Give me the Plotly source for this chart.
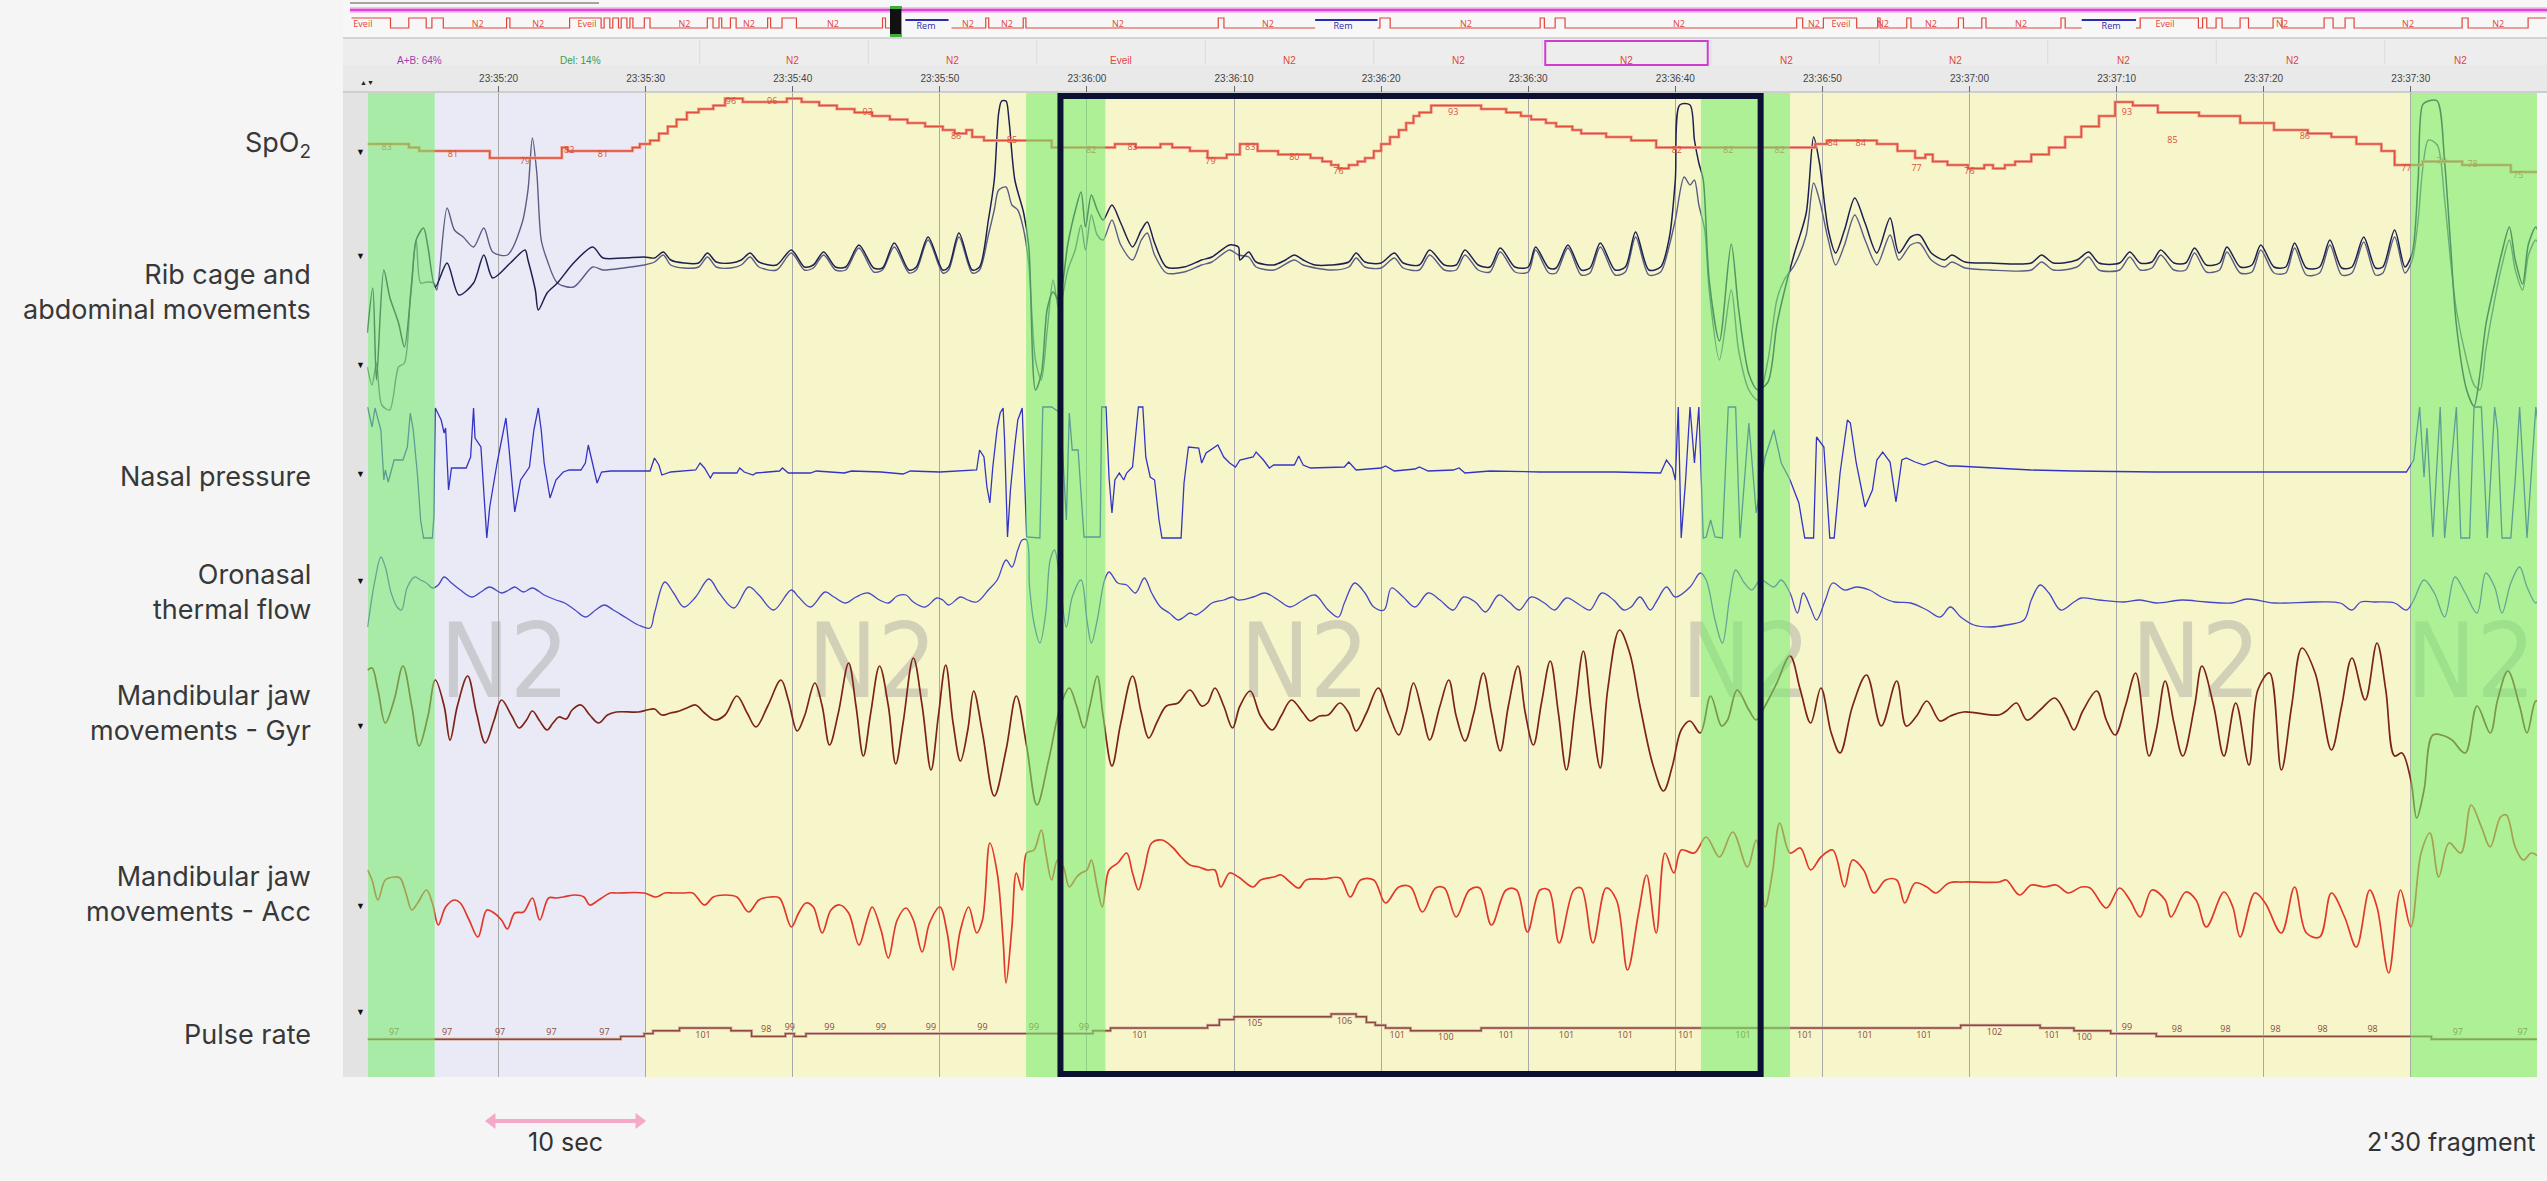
import plotly.graph_objects as go

W, H = 2547, 1181

# ---------------------------------------------------------------- data
TIME_TICK_S = [20, 30, 40, 50, 60, 70, 80, 90, 100, 110, 120, 130, 140, 150]
TIME_TICK_LABELS = ["23:35:20", "23:35:30", "23:35:40", "23:35:50", "23:36:00", "23:36:10",
                    "23:36:20", "23:36:30", "23:36:40", "23:36:50", "23:37:00", "23:37:10",
                    "23:37:20", "23:37:30"]
WINDOW_S = (11.09, 158.58)          # seconds after 23:35:00
SCALE_BAR_S = (19.55, 29.55)

CHANNEL_LABELS = ["SpO<sub>2</sub>", "Rib cage and<br>abdominal movements", "Nasal pressure",
                  "Oronasal<br>thermal flow", "Mandibular jaw<br>movements - Gyr",
                  "Mandibular jaw<br>movements - Acc", "Pulse rate"]

LAVENDER_PERIODS = [(11.09, 30.0)]
YELLOW_PERIODS = [(30.0, 158.58)]
AROUSAL_PERIODS = [(11.09, 15.66), (55.86, 61.25), (101.74, 107.8), (150.0, 158.58)]
HIGHLIGHT_PERIOD = (58.2, 105.8)
STAGE_MARKS = [(20.4, "N2"), (45.4, "N2"), (74.8, "N2"), (104.8, "N2"), (135.4, "N2"), (154.1, "N2")]

SPO2 = [(11.1, 83), (13.9, 82), (14.6, 81), (19.4, 79), (24.3, 82), (24.7, 81), (29.1, 82), (29.6, 83),
        (30.3, 84), (30.9, 86), (31.5, 88), (32.1, 90), (32.8, 92), (33.6, 93), (34.6, 94), (35.4, 96),
        (36.6, 95), (39.6, 96), (40.6, 95), (41.8, 94), (43.0, 93), (44.2, 92), (45.4, 91), (46.6, 90),
        (47.8, 89), (49.0, 88), (50.2, 87), (51.0, 86), (51.8, 87), (52.2, 85), (53.0, 84), (57.6, 82),
        (61.9, 83), (63.3, 82), (65.0, 83), (65.8, 82), (67.0, 81), (68.2, 79), (69.5, 80), (70.4, 83),
        (71.6, 81), (73.0, 80), (75.2, 79), (76.0, 78), (76.6, 77), (77.1, 76), (77.8, 77), (78.4, 78),
        (78.9, 79), (79.5, 81), (80.0, 83), (80.6, 85), (81.2, 87), (81.7, 89), (82.2, 91), (82.6, 92),
        (83.4, 94), (86.8, 93), (88.5, 92), (89.5, 91), (90.2, 90), (91.2, 89), (91.9, 88), (93.0, 87),
        (93.6, 86), (95.3, 85), (97.0, 84), (98.7, 82), (109.5, 83), (110.3, 84), (113.7, 83), (115.1, 81),
        (116.3, 79), (117.0, 80), (117.5, 78), (118.5, 77), (119.9, 76), (121.0, 77), (121.6, 76),
        (122.4, 77), (123.1, 78), (124.2, 80), (125.4, 82), (126.5, 85), (127.6, 88), (128.8, 91),
        (129.9, 95), (131.1, 94), (132.8, 92), (135.6, 91), (138.4, 89), (140.7, 87), (143.0, 86),
        (144.6, 85), (146.3, 83), (148.0, 81), (148.9, 77), (150.8, 78), (153.5, 77), (156.8, 75),
        (158.8, 75)]
SPO2_LABELS = [(12.4, 83), (16.9, 81), (21.8, 79), (24.8, 82), (27.1, 81), (35.8, 96), (38.6, 96),
               (45.1, 93), (51.1, 86), (54.9, 85), (60.3, 82), (63.1, 83), (68.4, 79), (71.1, 83),
               (74.1, 80), (77.1, 76), (84.9, 93), (100.1, 82), (103.6, 82), (107.1, 82), (110.7, 84),
               (112.6, 84), (116.4, 77), (120.0, 76), (130.7, 93), (133.8, 85), (142.8, 86), (149.7, 77),
               (152.1, 79), (154.2, 78), (157.3, 75)]

RIB = [(11.08, -6.3), (11.45, -1.8), (11.7, -11.0), (12.2, 0.0), (12.6, -2.7), (13.2, -5.3), (13.6, -7.7),
       (14.1, -1.3), (14.4, 3.0), (14.9, 4.2), (15.2, 2.3), (15.7, -1.7), (16.5, 0.7), (17.3, -2.5),
       (18.3, -1.3), (19.0, 1.5), (19.6, -0.8), (20.8, 0.7), (21.8, 2.0), (22.0, 1.0), (22.5, -2.0),
       (22.7, -4.0), (23.3, -2.3), (24.0, -1.3), (25.1, 0.7), (26.4, 2.3), (27.1, 1.2), (28.5, 1.2),
       (29.9, 1.3), (30.6, 1.2),
       (31.2, 1.8), (31.7, 1.0), (32.6, 0.7), (33.6, 0.7), (34.2, 1.7), (34.8, 0.8), (35.8, 0.7),
       (36.5, 1.0), (37.1, 1.7), (37.7, 0.8), (38.9, 0.5), (39.9, 2.0), (40.8, 0.3), (41.4, 0.5),
       (42.1, 1.8), (42.9, 0.3), (43.6, 0.3), (44.5, 2.5), (45.5, 0.2), (46.1, 0.2), (46.9, 2.7),
       (47.9, 0.0), (48.4, 0.3), (49.2, 3.3), (50.2, 0.0), (50.6, 0.3), (51.3, 3.7), (52.2, 0.0),
       (52.7, 0.3), (53.3, 5.0), (53.7, 9.0), (54.0, 15.7), (54.2, 16.9), (54.5, 16.9), (54.7, 15.0),
       (55.1, 9.0), (55.7, 5.7), (56.05, 2.3), (56.5, -12.0), (56.9, -10.4), (57.3, -3.9), (57.7, -2.2),
       (58.1, -3.0), (58.7, 2.6), (59.2, 5.9), (59.6, 7.8), (59.9, 4.3), (60.3, 7.5), (60.7, 6.0),
       (61.1, 5.0), (61.7, 6.5), (62.3, 4.7), (63.1, 2.3), (63.7, 4.0), (64.1, 4.8), (64.6, 2.7),
       (65.4, 0.3), (66.6, 0.3), (67.8, 1.0), (68.5, 1.3), (69.7, 2.5), (70.3, 2.3), (70.4, 1.0),
       (71.0, 1.8), (71.5, 0.8), (72.7, 0.5), (73.5, 1.0), (74.1, 1.5), (74.7, 1.0), (75.5, 0.5),
       (76.6, 0.5), (77.8, 0.8), (78.3, 1.7), (78.9, 0.8), (80.0, 0.7), (80.9, 1.7), (81.5, 0.7),
       (82.6, 0.5), (83.3, 2.0), (84.3, 0.5), (85.1, 0.5), (85.7, 2.0), (86.6, 0.5), (87.4, 0.3),
       (88.1, 2.2), (89.1, 0.3), (90.0, 0.3), (90.5, 2.3), (91.4, 0.2), (91.9, 0.2), (92.7, 2.5),
       (93.6, 0.0), (94.2, 0.2), (94.9, 2.7), (95.9, 0.0), (96.6, 0.3), (97.3, 3.8), (98.2, 0.0),
       (99.0, 0.3), (99.6, 3.3), (100.0, 9.0), (100.3, 16.5), (101.0, 16.5), (101.3, 13.0),
       (101.6, 10.7), (101.9, 9.0), (102.3, -1.0), (103.0, -7.1), (103.8, 2.6), (104.3, -3.9),
       (105.0, -10.4), (105.6, -12.0), (106.3, -11.2), (106.9, -5.5), (107.4, -2.2), (108.1, 1.7),
       (108.9, 5.7), (109.4, 13.3), (109.8, 10.7), (110.4, 4.0), (110.9, 1.7), (111.5, 4.0),
       (112.2, 7.2), (112.9, 4.7), (113.7, 1.7), (114.6, 5.2), (115.2, 1.7), (116.0, 3.3), (116.6, 3.5),
       (117.4, 1.7), (118.3, 1.0), (118.8, 1.5), (119.7, 0.8), (121.4, 0.7), (124.2, 0.7), (124.9, 1.5),
       (125.7, 0.7), (127.3, 1.0), (128.1, 1.8), (128.8, 0.7), (130.2, 0.7), (130.9, 1.8), (131.6, 0.7),
       (132.4, 0.8), (133.0, 2.0), (133.9, 0.7), (134.7, 0.7), (135.3, 2.2), (136.1, 0.5), (137.0, 0.7),
       (137.5, 2.3), (138.4, 0.3), (139.2, 0.5), (139.8, 2.5), (140.7, 0.3), (141.5, 0.3), (142.1, 2.7),
       (142.9, 0.2), (143.8, 0.3), (144.5, 3.0), (145.3, 0.2), (146.0, 0.3), (146.8, 3.3), (147.6, 0.2),
       (148.1, 0.3), (148.9, 4.0), (149.6, 0.3), (150.1, 1.7), (150.5, 9.0), (150.8, 16.5),
       (151.2, 16.9), (151.8, 16.9), (152.3, 10.8), (152.7, 2.6), (153.1, -5.5), (153.8, -12.0),
       (154.3, -13.6), (154.7, -10.4), (155.1, -5.5), (155.7, -1.4), (156.2, 1.8), (156.7, 4.3),
       (157.1, 1.0), (157.6, -1.4), (158.0, 2.6), (158.5, 4.3), (158.8, 3.0)]

ABDOMEN = [(11.08, -9.7), (11.4, -11.5), (11.7, -9.3), (12.06, -13.5), (12.6, -14.0), (13.2, -9.7),
           (13.6, -9.3), (14.0, -2.7), (14.4, 3.0), (14.7, -1.3), (15.1, -1.2), (15.6, -1.3), (15.8, -2.0),
           (16.5, 6.2), (17.0, 4.0), (17.6, 3.3), (18.3, 2.3), (19.0, 4.2), (19.6, 1.8), (20.6, 1.5),
           (21.6, 4.7), (22.0, 8.0), (22.3, 13.2), (22.6, 9.7), (22.9, 3.0), (23.3, 1.0), (24.0, -1.3),
           (25.1, -1.7), (26.4, 0.3), (27.1, 0.0), (28.5, 0.2), (29.9, 0.5), (30.6, 0.8), (31.2, 1.5),
           (31.7, 0.5),
           (32.6, 0.2), (33.6, 0.3), (34.2, 1.3), (34.8, 0.3), (35.8, 0.2), (36.5, 0.5), (37.1, 1.3),
           (37.7, 0.3), (38.9, 0.0), (39.9, 1.7), (40.8, 0.0), (41.4, 0.2), (42.1, 1.5), (42.9, 0.0),
           (43.6, 0.0), (44.5, 2.2), (45.5, -0.2), (46.1, 0.0), (46.9, 2.3), (47.9, -0.3), (48.4, 0.0),
           (49.2, 3.0), (50.2, -0.3), (50.6, 0.0), (51.3, 3.3), (52.2, -0.3), (52.7, 0.0), (53.3, 3.5),
           (53.7, 6.0), (54.0, 8.0), (54.5, 8.3), (54.9, 6.5), (55.3, 6.0), (55.7, 4.0), (56.05, 0.5),
           (56.5, -9.0), (56.9, -11.0), (57.3, -6.0), (57.7, -1.0), (58.1, -4.0), (58.7, 0.0), (59.2, 2.0),
           (59.6, 4.5), (59.9, 2.0), (60.3, 5.5), (60.7, 3.5), (61.1, 3.0), (61.7, 5.0), (62.3, 2.5),
           (63.1, 1.0), (63.7, 3.0), (64.1, 3.7), (64.6, 1.5), (65.4, -0.3), (66.6, -0.2), (67.8, 0.5),
           (68.5, 0.8), (69.7, 2.0), (70.3, 1.5), (71.0, 1.3), (71.5, 0.3), (72.7, 0.0), (74.1, 1.0),
           (74.7, 0.5), (76.6, 0.0), (77.8, 0.3), (78.3, 1.2), (78.9, 0.3), (80.0, 0.2), (80.9, 1.2),
           (81.5, 0.2), (82.6, 0.0), (83.3, 1.5), (84.3, 0.0), (85.1, 0.0), (85.7, 1.5), (86.6, 0.0),
           (87.4, -0.2), (88.1, 1.8), (89.1, -0.2), (90.0, -0.2), (90.5, 2.0), (91.4, -0.3), (91.9, -0.3),
           (92.7, 2.2), (93.6, -0.5), (94.2, -0.3), (94.9, 2.3), (95.9, -0.5), (96.6, -0.2), (97.3, 3.3),
           (98.2, -0.5), (99.0, -0.2), (99.6, 2.5), (100.0, 5.0), (100.6, 9.3), (101.0, 8.5), (101.3, 9.0),
           (101.6, 6.5), (102.0, 4.0), (102.3, -2.0), (103.0, -9.0), (103.8, -2.0), (104.3, -8.0),
           (105.0, -12.0), (105.6, -13.0), (106.3, -9.0), (106.9, -3.0), (107.4, -1.0), (108.1, 0.5),
           (108.9, 3.5), (109.4, 8.7), (109.8, 7.0), (110.4, 3.0), (110.9, 0.5), (111.5, 2.5), (112.2, 5.5),
           (112.9, 3.0), (113.7, 0.5), (114.6, 3.5), (115.2, 1.0), (116.0, 2.5), (116.6, 2.7), (117.4, 1.0),
           (118.3, 0.3), (118.8, 0.8), (119.7, 0.2), (121.4, 0.0), (124.2, 0.0), (124.9, 0.8), (125.7, 0.0),
           (127.3, 0.3), (128.1, 1.3), (128.8, 0.0), (130.2, 0.0), (130.9, 1.3), (131.6, 0.0), (132.4, 0.2),
           (133.0, 1.5), (133.9, 0.0), (134.7, 0.0), (135.3, 1.7), (136.1, -0.2), (137.0, 0.0), (137.5, 1.8),
           (138.4, -0.3), (139.2, -0.2), (139.8, 2.0), (140.7, -0.3), (141.5, -0.3), (142.1, 2.2),
           (142.9, -0.5), (143.8, -0.3), (144.5, 2.5), (145.3, -0.5), (146.0, -0.3), (146.8, 2.8),
           (147.6, -0.5), (148.1, -0.3), (148.9, 3.3), (149.6, -0.3), (150.1, 1.0), (150.5, 5.0),
           (150.8, 10.0), (151.2, 13.0), (151.8, 12.5), (152.3, 7.0), (152.7, 1.0), (153.1, -4.0),
           (153.8, -9.0), (154.3, -11.5), (154.7, -12.0), (155.1, -8.0), (155.7, -3.0), (156.2, 0.5),
           (156.7, 3.0), (157.1, 0.0), (157.6, -2.0), (158.0, 1.5), (158.5, 3.0), (158.8, 2.0)]

NASAL = [(11.1, 6.5), (11.4, 4.5), (11.6, 6.4), (12.0, 4.2), (12.2, -0.8), (12.3, 0.2), (12.5, -1.0),
         (12.9, 1.2), (13.5, 1.2), (13.8, 2.5), (14.0, 5.9), (14.2, 4.2), (14.5, -0.5), (14.7, -4.8),
         (14.9, -6.6), (15.5, -6.6), (15.6, -4.5), (15.7, 6.4), (16.1, 5.2), (16.3, 3.9), (16.4, 4.4),
         (16.6, -1.8), (16.8, 0.4), (17.8, 0.4), (18.1, 1.5), (18.3, 6.4), (18.4, 3.4), (18.6, 3.0),
         (18.8, 2.5), (19.2, -6.6), (19.4, -3.5), (19.9, 0.9), (20.5, 5.4), (20.7, 2.5), (21.1, -4.0),
         (21.5, -0.8), (22.1, 0.5), (22.4, 4.2), (22.7, 6.4), (22.9, 4.2), (23.1, 0.9), (23.5, -2.6),
         (23.9, -0.8), (24.4, 0.0), (24.8, 0.2), (25.6, 0.2), (25.9, 0.9), (26.1, 2.7), (26.4, 0.9),
         (26.7, -1.1), (27.0, 0.0), (27.6, 0.1), (30.3, 0.1), (30.6, 1.4), (30.9, 0.7), (31.1, -0.3),
         (31.7, 0.0), (33.4, 0.2), (33.7, 0.9), (34.0, 0.4), (34.4, -0.6), (34.6, -0.1), (36.2, -0.1),
         (36.4, 0.4), (36.7, 0.0), (37.3, -0.3), (37.5, -0.1), (39.1, 0.1), (39.3, 0.4), (39.7, -0.1),
         (41.2, -0.1), (41.6, 0.1), (43.5, -0.1), (44.0, 0.1), (46.0, 0.0), (47.5, -0.2), (48.0, 0.1),
         (50.0, 0.0), (52.5, 0.2), (52.7, 2.2), (53.0, 1.5), (53.2, -1.5), (53.4, -3.1), (53.6, 0.5),
         (53.9, 4.4), (54.1, 5.9), (54.3, 6.4), (54.4, 3.2), (54.6, -6.5), (54.8, -1.8), (55.1, 2.7),
         (55.3, 5.2), (55.6, 6.4), (55.7, 2.7), (55.9, -6.5), (56.8, -6.6), (57.0, 6.5), (57.6, 6.5),
         (58.2, 5.9), (58.6, -4.8), (58.8, 5.9), (59.0, 2.2), (59.4, 2.2), (59.8, -6.5), (60.9, -6.5),
         (61.0, 6.5), (61.3, 6.5), (61.5, -0.5), (61.7, -4.1), (61.9, -0.8), (62.2, -0.1), (62.5, -0.8),
         (62.7, -0.1), (63.1, 0.5), (63.5, 6.5), (63.8, 6.5), (64.0, 1.5), (64.3, -0.5), (64.6, -0.8),
         (64.9, -4.8), (65.1, -6.6), (66.4, -6.6), (66.6, -1.1), (66.9, 2.5), (67.6, 2.4), (67.8, 0.9),
         (68.1, 1.9), (68.9, 2.7), (69.3, 1.5), (69.7, 0.9), (70.1, 0.5), (70.4, 1.2), (71.3, 1.5),
         (71.5, 2.0), (72.0, 1.2), (72.4, 0.4), (72.7, 0.7), (74.1, 0.7), (74.4, 1.6), (74.7, 0.7),
         (75.2, 0.4), (77.5, 0.5), (77.8, 1.0), (78.3, 0.2), (80.0, 0.4), (80.3, 0.6), (80.9, 0.1),
         (82.3, 0.3), (82.6, 0.5), (83.2, 0.1), (84.9, 0.2), (85.3, 0.4), (85.7, -0.1), (87.4, 0.1),
         (90.8, 0.0), (95.9, 0.0), (99.0, -0.1), (99.4, 1.2), (99.8, 0.4), (100.0, -0.8), (100.2, 6.5),
         (100.4, -6.6), (100.7, -0.8), (101.0, 6.5), (101.3, 0.9), (101.6, 6.5), (101.9, -6.6),
         (102.1, -6.5), (102.4, -4.8), (102.7, -6.5), (103.2, -6.6), (103.6, 6.5), (104.1, 6.5),
         (104.4, -6.6), (105.0, 4.9), (105.5, -4.1), (106.1, 1.5), (106.7, 4.2), (107.2, 0.9),
         (107.8, -0.8), (108.4, -3.1), (108.8, -6.6), (109.4, -6.6), (109.6, 3.5), (110.1, 2.5),
         (110.5, -6.6), (110.8, -6.6), (111.2, -0.1), (111.7, 5.2), (111.9, 4.9), (112.3, 0.9),
         (112.9, -3.5), (113.4, -1.8), (113.7, 1.2), (114.1, 2.0), (114.6, 1.0), (115.0, -3.0),
         (115.4, 1.2), (115.7, 1.4), (116.3, 1.0), (116.9, 0.7), (117.7, 1.1), (118.6, 0.6), (119.1, 0.6),
         (120.3, 0.5), (121.4, 0.4), (124.2, 0.2), (127.1, 0.1), (132.7, 0.0), (149.7, 0.0), (150.2, 1.2),
         (150.6, 6.5), (150.9, -0.5), (151.1, 4.4), (151.5, -6.5), (152.0, 6.5), (152.3, -6.6),
         (153.1, 6.5), (153.4, -6.6), (154.0, -6.6), (154.3, 6.5), (154.8, 6.5), (155.2, -6.6),
         (155.7, 6.5), (155.9, 4.2), (156.2, -6.6), (156.8, -6.6), (157.1, -0.8), (157.4, 6.5),
         (157.9, -6.6), (158.5, 6.5), (158.8, 3.2)]

THERMAL = [(11.1, -2.7), (11.6, 2.0), (12.0, 4.3), (12.3, 3.3), (12.7, 0.7), (13.1, -0.7), (13.4, -1.0),
           (13.8, 1.3), (14.3, 2.3), (14.7, 2.0), (15.1, 1.7), (15.5, 1.2), (15.9, 1.5), (16.3, 2.3),
           (16.8, 1.7), (17.4, 1.0), (18.2, 0.3), (18.8, 0.8), (19.4, 1.3), (20.2, 0.7), (20.7, 1.0),
           (21.1, 1.3), (21.7, 0.8), (22.3, 1.2), (23.1, 0.5), (23.9, 0.0), (24.5, -0.3), (25.2, -1.0),
           (25.9, -1.7), (26.6, -1.0), (27.2, -0.5), (27.8, -1.0), (28.7, -1.8), (29.5, -2.5), (30.3, -2.8),
           (30.6, -1.3), (31.3, 1.8), (31.9, 0.7), (32.6, -0.7), (33.4, 0.3), (34.3, 2.1), (35.0, 0.7),
           (36.0, -0.8), (37.0, 1.3), (37.7, 0.5), (38.7, -1.0), (39.9, 1.0), (40.4, 0.3), (41.2, -0.7),
           (42.2, 0.8), (42.8, 0.3), (43.6, -0.3), (44.3, 0.3), (45.1, 0.7), (45.9, 0.0), (46.5, -0.3),
           (47.1, 0.4), (47.7, 0.5), (48.2, -0.2), (49.0, -0.7), (49.8, 0.2), (50.2, 0.0), (50.6, -0.5),
           (51.4, 0.3), (51.9, 0.0), (52.5, -0.2), (53.3, 1.0), (53.9, 2.0), (54.5, 4.0), (54.9, 3.3),
           (55.3, 5.0), (55.6, 6.0), (55.9, 6.0), (56.1, 1.3), (56.4, -2.3), (56.8, -4.3), (57.2, -1.3),
           (57.5, 4.0), (57.8, 5.0), (58.2, 1.3), (58.6, -2.7), (59.0, 0.3), (59.6, 2.0), (60.0, -2.0),
           (60.3, -4.3), (60.7, -2.0), (61.2, 2.0), (61.5, 2.8), (62.1, 1.7), (62.7, 1.5), (63.3, 0.7),
           (63.9, 2.2), (64.4, 0.7), (65.0, -0.7), (65.6, -1.3), (66.2, -2.0), (66.6, -1.7), (67.0, -1.3),
           (67.4, -1.5), (67.95, -1.0), (68.5, -0.3), (69.3, 0.0), (69.9, 0.3), (70.3, 0.0), (71.3, 0.3),
           (72.1, 0.7), (73.0, 0.0), (73.8, -0.7), (74.7, 0.0), (75.5, 0.5), (76.4, -1.0), (77.1, -1.7),
           (77.5, -0.3), (78.2, 1.7), (78.9, 0.7), (79.5, -0.7), (80.2, -1.0), (80.7, 1.2), (81.5, 0.3),
           (82.3, -0.7), (83.2, 0.7), (84.0, 0.0), (84.9, -1.0), (85.6, 0.3), (86.4, -0.2), (87.1, -1.2),
           (88.0, 0.5), (88.7, -0.2), (89.4, -1.0), (90.2, 0.3), (91.1, -0.3), (91.8, -1.0), (92.6, 0.2),
           (93.5, -0.5), (94.2, -1.0), (95.0, 0.7), (95.8, 0.0), (96.5, -1.0), (97.0, -0.7), (97.6, 0.3),
           (98.3, -1.0), (98.7, -0.2), (99.4, 1.3), (100.0, 0.3), (101.0, 1.3), (101.7, 2.7), (102.1, 2.0),
           (102.7, -2.0), (103.2, -4.3), (103.7, 0.3), (104.1, 3.0), (104.7, 1.7), (105.2, 1.0),
           (105.8, 2.0), (106.7, 1.3), (107.2, 2.0), (107.8, 0.7), (108.3, -1.3), (108.7, 0.7),
           (109.2, -0.8), (109.6, -2.0), (110.2, 0.0), (110.7, 1.7), (111.5, 1.0), (112.3, 1.3),
           (113.2, 1.0), (114.0, 0.3), (114.9, -0.2), (116.0, -0.3), (117.1, -1.0), (118.0, -1.7),
           (118.7, -0.7), (119.4, -1.7), (120.3, -2.5), (121.4, -2.7), (122.5, -2.5), (123.7, -2.0),
           (124.2, 0.0), (124.8, 1.5), (125.4, 0.7), (126.2, -1.0), (127.1, -0.2), (127.6, 0.2),
           (128.8, 0.0), (130.5, -0.2), (131.6, 0.0), (132.7, -0.3), (134.4, 0.0), (136.1, -0.2),
           (137.8, -0.3), (138.9, 0.1), (140.7, -0.3), (143.5, -0.2), (145.2, -0.3), (146.0, -1.0),
           (146.6, -0.2), (147.5, -0.2), (148.9, -0.3), (149.7, -1.0), (150.2, 0.0), (150.9, 2.0),
           (151.6, 0.7), (152.3, -1.7), (153.0, 2.3), (153.7, 0.7), (154.5, -1.3), (155.1, 2.7),
           (155.7, 1.3), (156.2, -1.3), (156.8, 1.7), (157.4, 3.3), (157.9, 1.3), (158.5, -0.3),
           (158.8, 0.7)]

GYR = [(11.1, 4.3), (11.4, 4.5), (11.8, 2.3), (12.3, -1.0), (12.9, 1.3), (13.5, 4.7), (14.1, 0.7),
       (14.6, -3.3), (15.2, -0.3), (15.7, 3.3), (16.3, 0.7), (16.7, -2.7), (17.2, 0.7), (17.9, 3.7),
       (18.5, 0.0), (19.1, -3.0), (19.7, -0.7), (20.2, 1.3), (20.9, -0.3), (21.4, -1.5), (21.9, -0.7),
       (22.3, 0.2), (22.8, -0.8), (23.3, -1.7), (23.7, -1.0), (24.1, -0.4), (24.6, -0.6), (25.0, 0.3),
       (25.6, 0.8), (26.2, -0.2), (26.8, -1.0), (27.4, -0.2), (28.0, 0.1), (29.5, 0.1), (30.1, 0.3),
       (30.6, 0.4), (31.1, -0.2), (31.7, 0.0), (32.3, 0.2), (32.8, 0.5), (33.4, 0.8), (34.0, 0.0),
       (34.7, -0.7), (35.4, -0.2), (36.2, 1.7), (36.9, 0.0), (37.5, -1.4), (38.3, 0.7), (39.2, 3.3),
       (39.7, 1.3), (40.3, -1.8), (40.8, -0.3), (41.5, 3.0), (42.0, 0.7), (42.5, -3.2), (43.1, 0.0),
       (43.8, 5.0), (44.3, 0.7), (44.8, -4.3), (45.3, 0.0), (45.9, 4.7), (46.5, 0.7), (47.0, -5.1),
       (47.5, -1.0), (48.2, 5.5), (48.8, 0.7), (49.4, -5.7), (49.9, -0.3), (50.4, 4.8), (50.9, -1.0),
       (51.4, -4.8), (51.9, -1.7), (52.3, 2.2), (52.9, -2.0), (53.7, -8.3), (54.5, -3.7), (55.2, 1.7),
       (55.9, -3.3), (56.6, -9.2), (57.4, -4.7), (58.2, 0.7), (58.8, 2.5), (59.3, 0.7), (59.8, -1.5),
       (60.2, 0.7), (60.7, 3.7), (61.1, -0.3), (61.7, -5.3), (62.3, -1.0), (63.1, 3.7), (63.7, 0.0),
       (64.2, -2.5), (64.8, -0.8), (65.4, 0.7), (66.2, 1.0), (67.0, 2.3), (67.8, 0.7), (68.2, 1.0),
       (68.7, 2.5), (69.3, 0.7), (69.9, -1.5), (70.4, 0.7), (71.1, 2.2), (71.8, -0.3), (72.6, -1.7),
       (73.2, -0.3), (73.9, 1.3), (74.7, 0.0), (75.2, -0.8), (75.8, -0.3), (76.4, -0.2), (77.2, 1.0),
       (77.8, 0.0), (78.3, -1.8), (79.0, 0.0), (79.8, 2.5), (80.5, 0.0), (81.2, -2.2), (81.7, 0.0),
       (82.2, 3.0), (82.8, 0.0), (83.3, -2.7), (84.0, 0.7), (84.6, 3.3), (85.1, -0.3), (85.7, -2.8),
       (86.3, 0.0), (86.95, 4.0), (87.5, 0.0), (88.1, -3.8), (88.65, 0.7), (89.3, 4.7), (89.8, 0.0),
       (90.35, -3.2), (90.9, 1.0), (91.5, 5.2), (92.05, 0.0), (92.6, -5.7), (93.2, 0.7), (93.75, 6.2),
       (94.3, 0.0), (94.9, -5.5), (95.4, 2.3), (96.2, 8.3), (96.9, 6.0), (97.6, 0.7), (98.5, -5.3),
       (99.2, -7.8), (99.8, -5.3), (100.4, -1.7), (101.0, -0.8), (101.7, -2.0), (102.4, 1.7),
       (103.15, -1.3), (103.55, -0.7), (104.2, 2.3), (105.0, 0.3), (105.5, -0.7), (106.1, 0.7),
       (106.9, 3.0), (107.8, 5.7), (108.5, 2.3), (109.2, -1.0), (109.9, 2.5), (110.6, -2.0),
       (111.2, -4.0), (112.05, 0.7), (113.0, 3.8), (114.0, -1.3), (115.05, 3.2), (115.7, -1.3),
       (116.4, -0.3), (117.1, 1.2), (118.0, -0.8), (118.7, -0.3), (119.6, 0.1), (122.0, -0.2),
       (122.5, 0.2), (123.2, 1.0), (123.9, -0.7), (124.8, 0.3), (125.8, 1.5), (126.6, -0.3),
       (127.1, -1.7), (127.7, 0.2), (128.65, 2.2), (129.3, -0.7), (129.9, -2.2), (130.6, 0.7),
       (131.3, 4.0), (132.2, -4.3), (132.7, -1.7), (133.3, 3.2), (133.9, -1.0), (134.5, -4.3),
       (135.3, 0.7), (135.8, 4.7), (136.6, 0.7), (137.3, -4.3), (138.1, 1.0), (139.0, -5.2),
       (139.6, 2.3), (140.4, 4.0), (141.2, -5.7), (141.9, 0.7), (142.6, 6.5), (143.5, 4.0),
       (144.6, -3.7), (145.3, 0.7), (146.0, 5.5), (146.9, 1.3), (147.7, 7.0), (148.3, 2.3),
       (148.9, -4.3), (149.4, -4.0), (150.0, -6.7), (150.4, -10.5), (150.9, -7.7), (151.5, -2.2),
       (152.3, -2.3), (152.8, -2.7), (153.7, -4.0), (154.5, 0.7), (155.4, -2.0), (155.9, 1.3),
       (156.6, 4.2), (157.4, 0.7), (157.9, -2.0), (158.5, 1.2), (158.8, 1.0)]

ACC = [(11.1, 2.0), (11.4, 1.0), (11.8, -1.0), (12.3, 1.0), (12.9, 1.3), (13.3, 1.2), (13.7, -0.3),
       (14.1, -2.0), (14.5, -1.3), (15.1, 0.0), (15.5, -1.3), (15.9, -3.5), (16.4, -1.7), (17.0, -1.0),
       (17.4, -1.3), (18.0, -3.0), (18.6, -4.7), (19.2, -2.0), (19.7, -2.3), (20.2, -3.0), (20.6, -3.9),
       (21.1, -2.3), (21.7, -2.2), (22.3, -0.8), (22.8, -3.0), (23.4, -0.8), (23.9, -0.8), (24.4, -0.7),
       (25.2, -0.5), (25.8, -0.7), (26.2, -1.5), (26.8, -1.0), (27.6, -0.3), (28.0, -0.3), (29.9, -0.3),
       (30.7, -0.7), (31.3, -0.3), (31.9, -0.3), (32.6, -0.3), (33.2, -0.3), (34.0, -1.5), (34.6, -0.7),
       (35.4, -0.5), (36.2, -0.7), (37.0, -2.2), (37.7, -1.0), (38.5, -0.7), (39.1, -0.8), (39.9, -3.7),
       (40.4, -2.3), (40.9, -1.3), (41.4, -1.7), (42.0, -4.3), (42.6, -2.0), (43.2, -1.5), (43.8, -2.3),
       (44.5, -5.5), (45.05, -3.0), (45.4, -1.7), (46.0, -4.0), (46.5, -6.8), (47.1, -3.0), (47.7, -1.8),
       (48.2, -3.0), (48.8, -6.2), (49.3, -3.3), (50.0, -1.7), (50.5, -4.3), (50.9, -8.0), (51.4, -4.0),
       (51.96, -1.7), (52.5, -4.3), (52.9, -3.0), (53.4, 4.7), (53.9, 1.7), (54.3, -5.0), (54.5, -9.3),
       (54.9, -3.7), (55.2, 1.7), (55.6, 0.0), (55.9, 3.7), (56.4, 4.0), (56.9, 6.0), (57.2, 3.7),
       (57.6, 1.0), (58.0, 3.0), (58.4, 2.3), (58.8, 0.3), (59.3, 1.3), (59.6, 1.7), (60.0, 2.0),
       (60.3, 3.0), (60.7, 0.3), (61.05, -1.7), (61.5, 2.0), (62.1, 2.7), (62.7, 3.7), (63.1, 1.7),
       (63.5, 0.0), (63.9, 2.0), (64.4, 4.7), (65.1, 5.0), (65.8, 4.3), (66.4, 3.3), (67.0, 2.5),
       (67.6, 2.3), (68.2, 2.0), (68.7, 2.0), (69.1, 0.3), (69.7, 1.7), (70.3, 1.3), (71.3, 0.3),
       (71.8, 1.0), (72.7, 1.3), (73.2, 1.5), (73.8, 0.8), (74.4, 0.2), (74.9, 1.0), (76.1, 1.1),
       (77.2, 1.2), (77.9, -0.7), (78.6, 1.0), (79.5, 1.0), (80.3, -1.3), (81.2, 0.3), (82.0, 0.3),
       (82.8, -2.2), (83.7, 0.2), (84.3, 0.2), (85.1, -2.7), (86.0, 0.0), (86.7, 0.2), (87.5, -3.5),
       (88.5, 0.0), (89.2, 0.0), (89.95, -4.2), (90.8, 0.0), (91.4, 0.0), (92.1, -5.3), (93.1, 0.0),
       (93.6, 0.2), (94.4, -5.3), (95.3, 0.2), (96.0, -1.0), (96.75, -8.0), (97.5, -2.3), (98.05, 1.5),
       (98.7, -4.3), (99.3, 3.7), (99.9, 1.7), (100.4, 4.0), (101.3, 3.7), (102.1, 5.3), (103.0, 3.3),
       (103.9, 5.8), (104.9, 2.3), (105.5, 5.0), (106.1, -1.7), (106.6, 1.7), (107.1, 6.7), (107.8, 3.7),
       (108.5, 4.2), (109.2, 2.0), (109.9, 3.3), (110.7, 4.0), (111.5, 0.3), (112.05, 3.0), (112.8, 2.0),
       (113.5, -0.3), (114.3, 1.0), (115.05, 1.0), (115.6, -1.3), (116.3, 0.7), (117.1, 0.3),
       (117.7, -0.3), (118.6, 0.7), (119.6, 0.8), (122.0, 0.8), (122.5, 1.0), (123.4, -0.5),
       (124.2, 0.5), (125.1, 0.3), (125.9, 0.5), (126.7, -0.3), (127.6, 0.3), (128.2, 0.2),
       (129.3, -1.8), (130.2, 0.2), (130.9, -1.0), (131.6, -2.7), (132.4, 0.0), (133.3, -1.0),
       (133.7, -2.7), (134.7, -0.2), (135.4, -1.0), (136.1, -3.7), (137.3, -0.2), (137.9, -1.7),
       (138.4, -4.7), (139.4, -0.3), (140.1, -1.3), (141.2, -4.3), (142.1, 0.3), (142.9, -4.3),
       (143.8, -4.7), (144.6, -0.3), (145.5, -2.7), (146.3, -5.7), (147.2, 0.0), (147.7, -1.7),
       (148.5, -8.3), (149.3, 0.0), (150.0, -3.7), (150.7, 3.7), (151.3, 5.7), (151.9, 1.3),
       (152.6, 4.7), (153.4, 3.7), (154.1, 8.5), (154.8, 6.3), (155.4, 4.3), (156.1, 7.3), (156.5, 7.5),
       (157.1, 4.3), (157.65, 3.0), (158.2, 3.7), (158.8, 3.2)]

PULSE = [(11.1, 97), (28.3, 98), (29.9, 99), (30.5, 100), (32.3, 101), (35.8, 100), (37.2, 98),
         (39.5, 99), (40.1, 98), (40.9, 99), (60.4, 100), (61.6, 101), (68.2, 102), (69.0, 104),
         (70.0, 105), (76.6, 106), (78.3, 105), (79.0, 103), (79.6, 102), (80.3, 101), (82.0, 100),
         (86.8, 101), (119.4, 102), (124.8, 101), (127.1, 100), (129.6, 99), (132.7, 98), (151.4, 97),
         (158.8, 97)]
PULSE_LABELS = [(12.9, 97), (16.5, 97), (20.1, 97), (23.6, 97), (27.2, 97), (33.9, 101), (38.2, 98),
                (39.8, 99), (42.5, 99), (46.0, 99), (49.4, 99), (52.9, 99), (56.4, 99), (59.8, 99),
                (63.6, 101), (71.4, 105), (77.5, 106), (81.1, 101), (84.4, 100), (88.5, 101), (92.6, 101),
                (96.6, 101), (100.7, 101), (104.6, 101), (108.8, 101), (112.9, 101), (116.9, 101),
                (121.7, 102), (125.6, 101), (127.8, 100), (130.7, 99), (134.1, 98), (137.4, 98),
                (140.8, 98), (144.0, 98), (147.4, 98), (153.2, 97), (157.6, 97)]

# overview hypnogram (minutes on the overview strip); 2 = wake, 0 = N2, None = gap
HYPNO = [(0.05, 2), (1.35, 0), (1.96, 2), (2.54, 0), (2.73, 2), (3.11, 0), (5.22, 2), (5.33, 0), (7.32, 2),
         (8.37, 0), (8.47, 2), (8.66, 0), (8.76, 2), (8.95, 0), (9.04, 2), (9.23, 0), (9.33, 2), (9.43, 0),
         (9.81, 2), (10.0, 0), (11.91, 2), (12.1, 0), (12.3, 2), (12.39, 0), (12.68, 2), (12.87, 0),
         (13.92, 2), (14.02, 0), (14.4, 2), (14.88, 0), (17.75, 2), (17.85, 0), (18.0, 0), (18.0, None),
         (20.05, 0), (21.19, 2), (21.29, 0), (22.44, 2), (22.53, 0), (28.94, 2), (29.13, 0), (32.17, 0),
         (32.17, None), (34.25, 0), (34.33, 2), (34.67, 0), (39.67, 2), (39.81, 0), (40.17, 2), (40.5, 0),
         (48.22, 2), (48.42, 0), (49.11, 2), (50.22, 0), (50.92, 2), (51.0, 0), (51.89, 2), (52.03, 0),
         (53.61, 2), (53.78, 0), (54.39, 2), (54.53, 0), (57.03, 2), (57.17, 0), (57.72, 0), (57.72, None),
         (59.53, 0), (59.67, 2), (61.61, 0), (61.75, 2), (61.89, 0), (62.2, 2), (62.4, 0), (63.0, 2),
         (63.28, 0), (64.1, 2), (64.4, 0), (65.8, 2), (66.1, 0), (66.5, 2), (66.8, 0), (70.4, 2), (70.6, 0),
         (72.6, 2), (73.2, 2)]
REM_PERIODS = [(18.51, 19.95), (32.17, 34.25), (57.72, 59.53)]
HYPNO_LABELS = [(0.43, "Eveil"), (4.26, "N2"), (6.27, "N2"), (7.9, "Eveil"), (11.15, "N2"), (13.3, "N2"),
                (16.1, "N2"), (20.6, "N2"), (21.9, "N2"), (25.6, "N2"), (30.6, "N2"), (37.2, "N2"),
                (44.3, "N2"), (48.8, "N2"), (49.7, "Eveil"), (51.1, "N2"), (52.7, "N2"), (55.7, "N2"),
                (60.5, "Eveil"), (64.4, "N2"), (68.6, "N2"), (71.6, "N2")]
REM_LABELS = [19.2, 33.1, 58.7]
CURSOR_M = (18.0, 18.38)

STATUS_LEFT = [("A+B: 64%", "#a23cae"), ("Del: 14%", "#3d9b3d")]
STATUS_CELLS = ["N2", "N2", "Eveil", "N2", "N2", "N2", "N2", "N2", "N2", "N2", "N2"]
STATUS_SELECTED = 5

# ---------------------------------------------------------------- layout helpers
def fx(x):
    return x / W

def fy(y):
    return 1 - y / H

PANEL_TOP, PANEL_BOT = 93, 1077
PANEL_L, PANEL_R = 367.5, 2537
FOOT_TOP = 1085

def chan_range(ref_y, ref_v, ppu):
    return [ref_v - (PANEL_BOT - ref_y) / ppu, ref_v + (ref_y - PANEL_TOP) / ppu]

def unz(pairs):
    return [p[0] for p in pairs], [p[1] for p in pairs]

fig = go.Figure()

# watermark stage letters (under the arousal overlay)
sx, st = unz(STAGE_MARKS)
fig.add_trace(go.Scatter(x=sx, y=[4.2] * len(sx), text=st, mode="text", yaxis="y4",
                         textfont=dict(size=104, color="rgba(150,150,150,0.38)",
                                       family="Liberation Sans Narrow, DejaVu Sans Condensed, Arial Narrow, sans-serif"),
                         hoverinfo="skip", showlegend=False))

def line(pairs, yaxis, color, width=1.4, shape="spline", smoothing=1.0):
    x, y = unz(pairs)
    ln = dict(color=color, width=width, shape=shape)
    if shape == "spline":
        ln["smoothing"] = smoothing
    fig.add_trace(go.Scatter(x=x, y=y, mode="lines", yaxis=yaxis, line=ln,
                             hoverinfo="skip", showlegend=False))

line(SPO2, "y6", "#f2a898", 3.2, "hv")
line(SPO2, "y6", "#e04f3a", 1.5, "hv")
line(ABDOMEN, "y", "#5a5e84", 1.4, smoothing=0.8)
line(RIB, "y", "#1d2150", 1.5, smoothing=0.8)
line(NASAL, "y2", "#3434c4", 1.3, "linear")
line(THERMAL, "y3", "#4747c6", 1.3)
line(GYR, "y4", "#7c2417", 1.7)
line(ACC, "y5", "#e0392a", 1.7)
line(PULSE, "y7", "#d8b4a8", 3.0, "hv")
line(PULSE, "y7", "#8c4a3c", 1.4, "hv")

lx, lv = unz(SPO2_LABELS)
fig.add_trace(go.Scatter(x=lx, y=[v - 1.0 for v in lv], text=[str(v) for v in lv], mode="text",
                         yaxis="y6", textfont=dict(size=9, color="#d9503c"), hoverinfo="skip",
                         showlegend=False))
lx, lv = unz(PULSE_LABELS)
fig.add_trace(go.Scatter(x=lx, y=[v + (2.2 if v < 100 else -2.6) for v in lv], text=[str(v) for v in lv],
                         mode="text", yaxis="y7", textfont=dict(size=9, color="#8c4a3c"),
                         hoverinfo="skip", showlegend=False))

# 10 s scale bar below the panel (own hidden axes, so no grid there)
fig.add_trace(go.Scatter(x=list(SCALE_BAR_S), y=[0.625, 0.625], mode="lines+markers", xaxis="x3", yaxis="y9",
                         line=dict(color="#f4a9c9", width=4),
                         marker=dict(symbol=["triangle-left", "triangle-right"], size=14, color="#f4a9c9"),
                         cliponaxis=False, hoverinfo="skip", showlegend=False))

# overview hypnogram
hx, hy = unz(HYPNO)
fig.add_trace(go.Scatter(x=hx, y=hy, mode="lines", xaxis="x2", yaxis="y8",
                         line=dict(color="#e0463c", width=1.2, shape="hv"), connectgaps=False,
                         hoverinfo="skip", showlegend=False))
rx, ry = [], []
for a, b in REM_PERIODS:
    rx += [a, b, None]
    ry += [1.6, 1.6, None]
fig.add_trace(go.Scatter(x=rx, y=ry, mode="lines", xaxis="x2", yaxis="y8",
                         line=dict(color="#2b2bb0", width=2), hoverinfo="skip", showlegend=False))
hlx, hlt = unz(HYPNO_LABELS)
fig.add_trace(go.Scatter(x=hlx, y=[0.6] * len(hlx), text=hlt, mode="text", xaxis="x2", yaxis="y8",
                         textfont=dict(size=9, color="#e0463c"), hoverinfo="skip", showlegend=False))
fig.add_trace(go.Scatter(x=REM_LABELS, y=[0.2] * len(REM_LABELS), text=["Rem"] * len(REM_LABELS),
                         mode="text", xaxis="x2", yaxis="y8", textfont=dict(size=9, color="#2b2bb0"),
                         hoverinfo="skip", showlegend=False))

# ---------------------------------------------------------------- shapes
shapes = []
shapes.append(dict(type="rect", xref="paper", yref="paper", x0=fx(343), x1=1, y0=fy(37), y1=1,
                   fillcolor="#f7f7f7", line_width=0, layer="below"))
shapes.append(dict(type="rect", xref="paper", yref="paper", x0=fx(343), x1=1, y0=fy(65), y1=fy(38),
                   fillcolor="#ededed", line_width=0, layer="below"))
shapes.append(dict(type="rect", xref="paper", yref="paper", x0=fx(343), x1=1, y0=fy(PANEL_TOP), y1=fy(65),
                   fillcolor="#e9e9e9", line_width=0, layer="below"))
shapes.append(dict(type="line", xref="paper", yref="paper", x0=fx(343), x1=1, y0=fy(38), y1=fy(38),
                   line=dict(color="#c9c9c9", width=1.5), layer="below"))
shapes.append(dict(type="line", xref="paper", yref="paper", x0=fx(343), x1=1, y0=fy(PANEL_TOP - 1),
                   y1=fy(PANEL_TOP - 1), line=dict(color="#c4c4c4", width=1.5), layer="below"))
shapes.append(dict(type="line", xref="paper", yref="paper", x0=fx(350), x1=1, y0=fy(10), y1=fy(10),
                   line=dict(color="#f3c2ef", width=6), layer="below"))
shapes.append(dict(type="line", xref="paper", yref="paper", x0=fx(350), x1=1, y0=fy(10), y1=fy(10),
                   line=dict(color="#dd44d6", width=2.5), layer="below"))
shapes.append(dict(type="line", xref="x2", yref="paper", x0=0.0, x1=8.3, y0=fy(3), y1=fy(3),
                   line=dict(color="#a5a5a5", width=2), layer="below"))
shapes.append(dict(type="rect", xref="x2", yref="paper", x0=CURSOR_M[0], x1=CURSOR_M[1], y0=fy(37),
                   y1=fy(6), fillcolor="#111111", line_width=0, layer="above"))
for y0, y1 in [(6, 9), (34, 37)]:
    shapes.append(dict(type="rect", xref="x2", yref="paper", x0=CURSOR_M[0], x1=CURSOR_M[1], y0=fy(y1),
                       y1=fy(y0), fillcolor="#3fae3f", line_width=0, layer="above"))
CELL0, CELLW = 784, 168.5
for i in range(len(STATUS_CELLS) + 1):
    xd = CELL0 - CELLW / 2 + CELLW * i
    shapes.append(dict(type="line", xref="paper", yref="paper", x0=fx(xd), x1=fx(xd), y0=fy(64),
                       y1=fy(40), line=dict(color="#dadada", width=1), layer="below"))
xs = CELL0 + CELLW * STATUS_SELECTED
shapes.append(dict(type="rect", xref="paper", yref="paper", x0=fx(xs - CELLW / 2 + 3),
                   x1=fx(xs + CELLW / 2 - 3), y0=fy(65), y1=fy(41), line=dict(color="#d03cd0", width=2),
                   fillcolor="rgba(0,0,0,0)", layer="above"))
shapes.append(dict(type="rect", xref="paper", yref="paper", x0=fx(343), x1=fx(PANEL_L), y0=fy(PANEL_BOT),
                   y1=fy(PANEL_TOP), fillcolor="#e3e3e3", line_width=0, layer="below"))
for a, b in LAVENDER_PERIODS:
    shapes.append(dict(type="rect", xref="x", yref="paper", x0=a, x1=b, y0=fy(PANEL_BOT), y1=fy(PANEL_TOP),
                       fillcolor="#eaeaf6", line_width=0, layer="below"))
for a, b in YELLOW_PERIODS:
    shapes.append(dict(type="rect", xref="x", yref="paper", x0=a, x1=b, y0=fy(PANEL_BOT), y1=fy(PANEL_TOP),
                       fillcolor="#f7f6cb", line_width=0, layer="below"))
for a, b in AROUSAL_PERIODS:
    shapes.append(dict(type="rect", xref="x", yref="paper", x0=a, x1=b, y0=fy(PANEL_BOT), y1=fy(PANEL_TOP),
                       fillcolor="rgba(120,236,110,0.58)", line_width=0, layer="above"))
shapes.append(dict(type="rect", xref="x", yref="paper", x0=HIGHLIGHT_PERIOD[0], x1=HIGHLIGHT_PERIOD[1],
                   y0=fy(PANEL_BOT - 3), y1=fy(PANEL_TOP + 3), line=dict(color="#0c1132", width=6),
                   fillcolor="rgba(0,0,0,0)", layer="above"))

# ---------------------------------------------------------------- annotations
ann = []
LABEL_Y = [144, 292, 477, 592, 713, 894, 1034]
for txt, yy in zip(CHANNEL_LABELS, LABEL_Y):
    ann.append(dict(text=txt, xref="paper", yref="paper", x=fx(313), y=fy(yy), xanchor="right",
                    yanchor="middle", align="right", showarrow=False,
                    font=dict(family="Inter, Open Sans, sans-serif", size=27, color="#383838")))
for yy in [143, 247, 356, 474, 580, 725, 914, 1020]:
    ann.append(dict(text="▼", xref="paper", yref="paper", x=fx(354), y=fy(yy), showarrow=False,
                    font=dict(size=9, color="#111111")))
ann.append(dict(text="▲▼", xref="paper", yref="paper", x=fx(358), y=fy(76), showarrow=False,
                font=dict(size=7, color="#222222")))
for (txt, col), xx in zip(STATUS_LEFT, [395, 558]):
    ann.append(dict(text=txt, xref="paper", yref="paper", x=fx(xx), y=fy(53), showarrow=False,
                    font=dict(size=10, color=col, family="Liberation Sans Narrow, Arial Narrow, sans-serif")))
for i, txt in enumerate(STATUS_CELLS):
    ann.append(dict(text=txt, xref="paper", yref="paper", x=fx(CELL0 + CELLW * i), y=fy(53), showarrow=False,
                    font=dict(size=10, color="#e0463c", family="Liberation Sans Narrow, Arial Narrow, sans-serif")))
ann.append(dict(text="10 sec", xref="x", yref="paper", x=sum(SCALE_BAR_S) / 2, y=fy(1159), showarrow=False,
                font=dict(family="Inter, Open Sans, sans-serif", size=25, color="#333333")))
ann.append(dict(text="2'30 fragment", xref="paper", yref="paper", x=fx(2537), y=fy(1159), xanchor="right",
                showarrow=False, font=dict(family="Inter, Open Sans, sans-serif", size=25, color="#333333")))

DOM = [fy(PANEL_BOT), fy(PANEL_TOP)]
hidden = dict(visible=False, showgrid=False, zeroline=False, fixedrange=True)
fig.update_layout(
    width=W, height=H, margin=dict(l=0, r=0, t=0, b=0),
    paper_bgcolor="#f5f5f5", plot_bgcolor="rgba(0,0,0,0)",
    shapes=shapes, annotations=ann, showlegend=False,
    xaxis=dict(domain=[fx(PANEL_L), fx(PANEL_R)], range=list(WINDOW_S), side="top",
               tickvals=TIME_TICK_S, ticktext=TIME_TICK_LABELS, ticks="outside", ticklen=6,
               tickcolor="#666666",
               tickfont=dict(size=10, color="#444444", family="Liberation Sans Narrow, Arial Narrow, sans-serif"),
               showgrid=True, gridcolor="#a9a9a9", gridwidth=1, zeroline=False, showline=False,
               anchor="y", fixedrange=True),
    xaxis2=dict(domain=[fx(350), 1], range=[0, 73.23], anchor="y8", **hidden),
    xaxis3=dict(domain=[fx(PANEL_L), fx(PANEL_R)], range=list(WINDOW_S), anchor="y9", **hidden),
    yaxis=dict(domain=DOM, range=chan_range(270, 0, 10), **hidden),
    yaxis2=dict(overlaying="y", range=chan_range(472, 0, 10), **hidden),
    yaxis3=dict(overlaying="y", range=chan_range(600, 0, 10), **hidden),
    yaxis4=dict(overlaying="y", range=chan_range(713, 0, 10), **hidden),
    yaxis5=dict(overlaying="y", range=chan_range(890, 0, 10), **hidden),
    yaxis6=dict(overlaying="y", range=chan_range(144, 83, 3.5), **hidden),
    yaxis7=dict(overlaying="y", range=chan_range(1028, 101, 2.8), **hidden),
    yaxis8=dict(domain=[fy(36), fy(12)], range=[-1.6, 3.2], anchor="x2", **hidden),
    yaxis9=dict(domain=[0, fy(FOOT_TOP)], range=[0, 1], anchor="x3", **hidden),
)

fig.write_html("out.html", include_plotlyjs=True, config={"displayModeBar": False},
               post_script="document.body.style.margin='0';document.body.style.overflow='hidden';")
